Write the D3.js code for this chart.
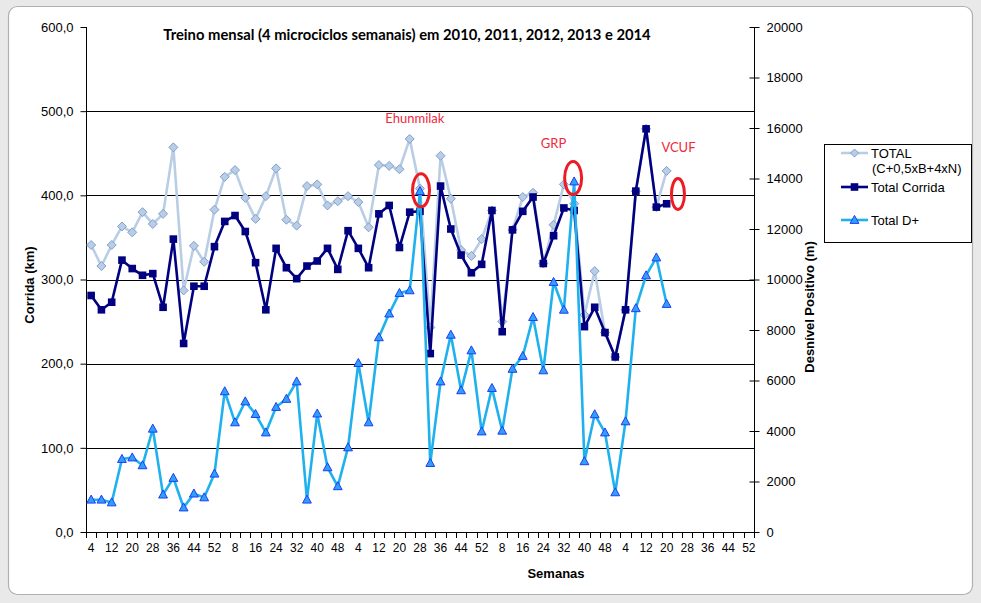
<!DOCTYPE html>
<html>
<head>
<meta charset="utf-8">
<script src="https://cdn.jsdelivr.net/npm/d3@7"></script>
<style>
  html, body { margin: 0; padding: 0; background: #e9e9e9; }
  svg { display: block; }
</style>
</head>
<body>
<svg id="chart" width="981" height="603"></svg>
<script>
// ---------------- DATA ----------------
const years = ["2010", "2011", "2012", "2013", "2014"];
const weekLabels = [4, 8, 12, 16, 20, 24, 28, 32, 36, 40, 44, 48, 52];
const leftTicks = [0, 100, 200, 300, 400, 500, 600];
const rightTicks = [0, 2000, 4000, 6000, 8000, 10000, 12000, 14000, 16000, 18000, 20000];
const gridValues = [100, 200, 300, 400, 500];

// TOTAL (C+0,5xB+4xN) in km
const totalValues = [341, 316, 341, 363, 356, 380, 366, 378, 457, 287, 340, 321, 383,
  422, 430, 397, 372, 399, 432, 371, 364, 411, 413, 388, 393, 399,
  392, 362, 436, 435, 431, 467, 408, 243, 447, 396, 335, 328, 348,
  382, 250, 359, 398, 403, 319, 365, 413, 390, 258, 310, 237, 208,
  264, 405, 479, 386, 429];
// Total Corrida in km
const corridaValues = [281, 264, 273, 323, 313, 305, 307, 267, 348, 224, 292, 292, 339,
  369, 376, 357, 320, 264, 337, 314, 301, 316, 322, 337, 312, 358,
  337, 314, 378, 388, 338, 380, 381, 212, 411, 360, 329, 308, 318,
  382, 238, 359, 381, 398, 319, 352, 385, 382, 244, 267, 237, 208,
  264, 405, 479, 386, 390];
// Total D+ in m
const dplusValues = [1280, 1280, 1170, 2890, 2950, 2640, 4090, 1480, 2140, 970, 1520, 1370, 2310,
  5570, 4340, 5170, 4670, 3940, 4950, 5270, 5960, 1280, 4690, 2560, 1810, 3350,
  6690, 4340, 7710, 8650, 9460, 9570, 13500, 2730, 5960, 7810, 5610, 7190, 3980,
  5700, 4010, 6460, 6970, 8510, 6400, 9900, 8800, 13880, 2800, 4660, 3940, 1570,
  4380, 8860, 10160, 10870, 9030];

// annotations: text position (category index, km) and ellipse mark position (category index, km)
const annotationLabels = ["Ehunmilak", "GRP", "VCUF"];
const annotationIndex = [31.5, 45.0, 57.15];
const annotationTextKm = [486, 456, 451.5];
const markIndex = [32.1, 46.9, 57.1];
const markKm = [406, 420.5, 401.5];

const titleText = "Treino mensal (4 microciclos semanais) em 2010, 2011, 2012, 2013 e 2014";

// ---------------- SETUP ----------------
const categories = [];
years.forEach(y => weekLabels.forEach(w => categories.push({ year: y, week: w })));
const idx = categories.map((d, i) => i);

const svg = d3.select("#chart");
const plot = { left: 86, right: 754, top: 27, bottom: 532 };

const x = d3.scaleBand().domain(idx).range([plot.left, plot.right]).paddingInner(0).paddingOuter(0);
const bw = x.bandwidth();
const cx = i => x(i) + bw / 2;
const cxf = f => plot.left + (f + 0.5) * bw;
const yL = d3.scaleLinear().domain([0, 600]).range([plot.bottom, plot.top]);
const yR = d3.scaleLinear().domain([0, 20000]).range([plot.bottom, plot.top]);

const fontAxis = "'Liberation Sans', Arial, sans-serif";
const fontTitle = "Lato, 'Open Sans', sans-serif";

// chart area frame
svg.append("rect").attr("x", 8.5).attr("y", 6.5).attr("width", 964).attr("height", 588)
  .attr("rx", 9).attr("fill", "#ffffff").attr("stroke", "#b0b0b0").attr("stroke-width", 1.2);

// gridlines
svg.append("g").selectAll("line").data(gridValues).join("line")
  .attr("x1", plot.left).attr("x2", plot.right)
  .attr("y1", d => Math.round(yL(d)) + 0.5).attr("y2", d => Math.round(yL(d)) + 0.5)
  .attr("stroke", "#000").attr("stroke-width", 1);

// left axis
const axL = svg.append("g").attr("transform", `translate(${plot.left + 0.5},0)`)
  .call(d3.axisLeft(yL).tickValues(leftTicks).tickSize(6).tickPadding(7)
    .tickFormat(d => d3.format(".1f")(d).replace(".", ",")));
axL.selectAll("text").attr("font-family", fontAxis).attr("font-size", 13).attr("fill", "#000");
axL.selectAll("line, path").attr("stroke", "#000");
axL.select(".domain").attr("d", `M0,${plot.top}V${plot.bottom}`);

// right axis
const axR = svg.append("g").attr("transform", `translate(${plot.right + 0.5},0)`)
  .call(d3.axisRight(yR).tickValues(rightTicks).tickSize(5).tickPadding(7).tickFormat(d3.format("d")));
axR.selectAll(".tick line").attr("x1", -5).attr("x2", 5);
axR.selectAll("text").attr("font-family", fontAxis).attr("font-size", 13).attr("fill", "#000").attr("x", 12);
axR.selectAll("line, path").attr("stroke", "#000");
axR.select(".domain").attr("d", `M0,${plot.top}V${plot.bottom}`);

// bottom axis
const axB = svg.append("g");
axB.append("line").attr("x1", plot.left).attr("x2", plot.right + 1)
  .attr("y1", plot.bottom + 0.5).attr("y2", plot.bottom + 0.5).attr("stroke", "#000");
const bTicks = d3.range(categories.length + 1);
axB.selectAll("line.tk").data(bTicks).join("line").attr("class", "tk")
  .attr("x1", k => Math.round(plot.left + k * bw) + 0.5).attr("x2", k => Math.round(plot.left + k * bw) + 0.5)
  .attr("y1", plot.bottom).attr("y2", plot.bottom + 6).attr("stroke", "#000");
axB.selectAll("text").data(categories.filter((d, i) => i % 2 === 0)).join("text")
  .attr("x", (d, j) => cx(j * 2)).attr("y", 552)
  .attr("text-anchor", "middle").attr("font-family", fontAxis).attr("font-size", 12)
  .text(d => d.week);

// axis titles
svg.append("text").attr("transform", "translate(34,285) rotate(-90)")
  .attr("text-anchor", "middle").attr("font-family", fontAxis).attr("font-size", 13)
  .attr("font-weight", "bold").text("Corrida (km)");
svg.append("text").attr("transform", "translate(814,307) rotate(-90)")
  .attr("text-anchor", "middle").attr("font-family", fontAxis).attr("font-size", 13)
  .attr("font-weight", "bold").text("Desnível Positivo (m)");
svg.append("text").attr("x", 556).attr("y", 578)
  .attr("text-anchor", "middle").attr("font-family", fontAxis).attr("font-size", 13)
  .attr("font-weight", "bold").text("Semanas");

// title
const title = svg.append("text").attr("x", 407).attr("y", 40).attr("text-anchor", "middle")
  .attr("font-family", fontTitle).attr("font-size", 14).attr("font-weight", "bold").text(titleText);
{
  const len = title.node().getComputedTextLength();
  title.attr("font-size", 14 * 488 / len);
}

// ---------------- SERIES ----------------
const colTotal = "#b9cde5", colTotalEdge = "#819fcd";
const colCorr = "#000080";
const colD = "#1fb1ee", colDFill = "#2f9ff8", colDEdge = "#1f3df5";

const lineL = d3.line().defined(d => d != null).x((d, i) => cx(i)).y(d => yL(d));
const lineR = d3.line().defined(d => d != null).x((d, i) => cx(i)).y(d => yR(d));

// TOTAL
svg.append("path").attr("d", lineL(totalValues)).attr("fill", "none")
  .attr("stroke", colTotal).attr("stroke-width", 2.6).attr("stroke-linejoin", "round");
svg.append("g").selectAll("path").data(totalValues).join("path")
  .attr("transform", (d, i) => `translate(${cx(i)},${yL(d)})`)
  .attr("d", "M0,-4.5L4.5,0L0,4.5L-4.5,0Z")
  .attr("fill", colTotal).attr("stroke", colTotalEdge).attr("stroke-width", 1);

// Total Corrida
svg.append("path").attr("d", lineL(corridaValues)).attr("fill", "none")
  .attr("stroke", colCorr).attr("stroke-width", 2.6).attr("stroke-linejoin", "round");
svg.append("g").selectAll("rect").data(corridaValues).join("rect")
  .attr("x", (d, i) => cx(i) - 3.8).attr("y", d => yL(d) - 3.8)
  .attr("width", 7.6).attr("height", 7.6).attr("fill", colCorr);

// Total D+
svg.append("path").attr("d", lineR(dplusValues)).attr("fill", "none")
  .attr("stroke", colD).attr("stroke-width", 2.6).attr("stroke-linejoin", "round");
svg.append("g").selectAll("path").data(dplusValues).join("path")
  .attr("transform", (d, i) => `translate(${cx(i)},${yR(d)})`)
  .attr("d", "M0,-4.6L4.4,3.4L-4.4,3.4Z")
  .attr("fill", colDFill).attr("stroke", colDEdge).attr("stroke-width", 1);

// ---------------- ANNOTATIONS ----------------
annotationLabels.forEach((t, k) => {
  svg.append("text").attr("x", cxf(annotationIndex[k]))
    .attr("y", yL(annotationTextKm[k]))
    .attr("text-anchor", "middle").attr("font-family", fontTitle).attr("font-size", 13)
    .attr("fill", "#f0283c").text(t);
  svg.append("ellipse").attr("cx", cxf(markIndex[k])).attr("cy", yL(markKm[k]))
    .attr("rx", k === 2 ? 6.5 : 8.5).attr("ry", k === 2 ? 15.5 : 16.5)
    .attr("fill", "none").attr("stroke", "#ec1c24").attr("stroke-width", 3);
});

// ---------------- LEGEND ----------------
const lg = svg.append("g");
lg.append("rect").attr("x", 824.5).attr("y", 144.5).attr("width", 147).attr("height", 98)
  .attr("fill", "#fff").attr("stroke", "#000").attr("stroke-width", 1);
const legendItems = [
  { name: ["TOTAL", "(C+0,5xB+4xN)"], y: 153, type: "total" },
  { name: ["Total Corrida"], y: 187, type: "corr" },
  { name: ["Total D+"], y: 220, type: "d" }
];
legendItems.forEach(it => {
  const col = it.type === "total" ? colTotal : it.type === "corr" ? colCorr : colD;
  lg.append("line").attr("x1", 841).attr("x2", 868).attr("y1", it.y).attr("y2", it.y)
    .attr("stroke", col).attr("stroke-width", 2.6);
  const mx = 854.5;
  if (it.type === "total") {
    lg.append("path").attr("transform", `translate(${mx},${it.y})`).attr("d", "M0,-4L4,0L0,4L-4,0Z")
      .attr("fill", colTotal).attr("stroke", colTotalEdge);
  } else if (it.type === "corr") {
    lg.append("rect").attr("x", mx - 3.8).attr("y", it.y - 3.8).attr("width", 7.6).attr("height", 7.6).attr("fill", colCorr);
  } else {
    lg.append("path").attr("transform", `translate(${mx},${it.y})`).attr("d", "M0,-4.6L4.4,3.4L-4.4,3.4Z")
      .attr("fill", colDFill).attr("stroke", colDEdge);
  }
  it.name.forEach((n, j) => {
    lg.append("text").attr("x", j === 0 ? 871 : 872).attr("y", it.y + 5 + j * 15)
      .attr("font-family", fontAxis).attr("font-size", 13).attr("fill", "#000").text(n);
  });
});
</script>
</body>
</html>
